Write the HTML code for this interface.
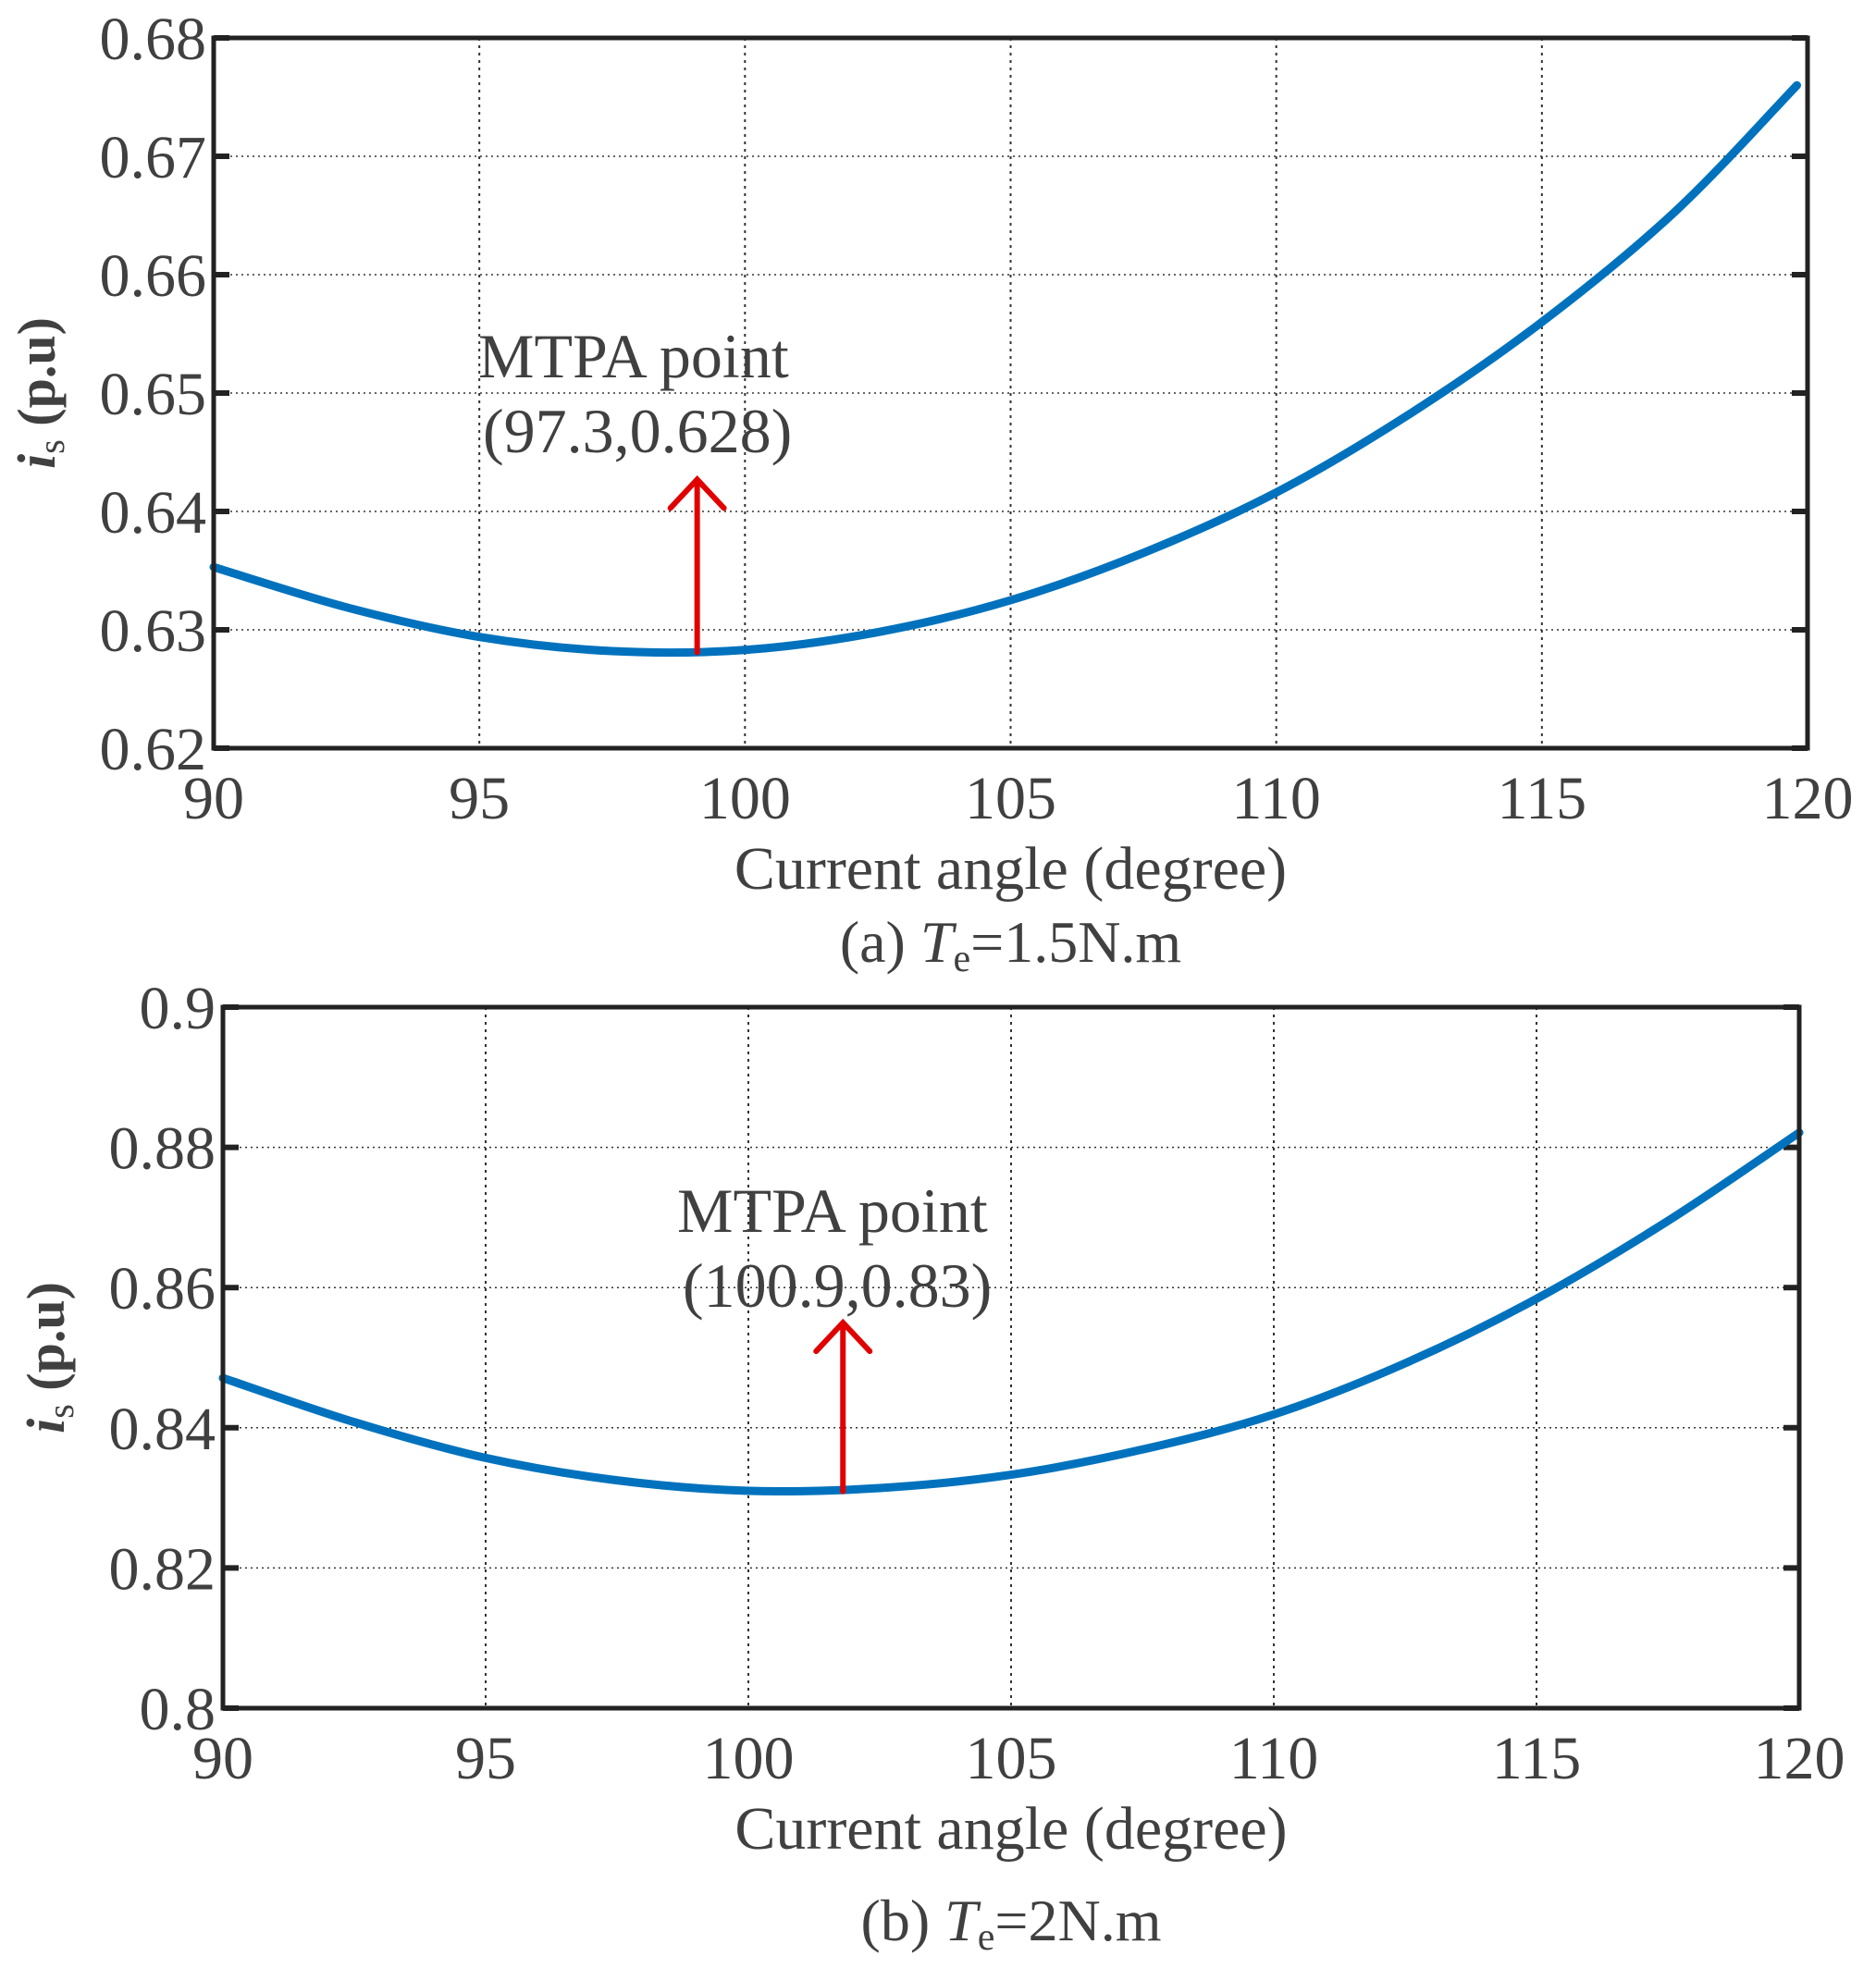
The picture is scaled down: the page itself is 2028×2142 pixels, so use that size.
<!DOCTYPE html>
<html><head><meta charset="utf-8"><style>
html,body{margin:0;padding:0;background:#fff;}
svg text{font-family:"Liberation Serif",serif;fill:#404040;}
</style></head><body>
<svg id="fig" width="2028" height="2137" viewBox="0 0 2028 2137" xmlns="http://www.w3.org/2000/svg"></svg>
<script>
const xTicks=[90,95,100,105,110,115,120];
const yTicksA=[0.62,0.63,0.64,0.65,0.66,0.67,0.68];
const yTickLabelsA=["0.62","0.63","0.64","0.65","0.66","0.67","0.68"];
const yTicksB=[0.8,0.82,0.84,0.86,0.88,0.9];
const yTickLabelsB=["0.8","0.82","0.84","0.86","0.88","0.9"];
const angleA=[90,92.5,95,97.5,100,102.5,105,107.5,110,112.5,115,117.5,119.8];
const currentA=[0.6353,0.6319,0.6294,0.6282,0.6283,0.6298,0.6325,0.6365,0.6416,0.6482,0.6560,0.6653,0.6760];
const angleB=[90,92.5,95,97.5,100,102.5,105,107.5,110,112.5,115,117.5,120];
const currentB=[0.8471,0.8408,0.8357,0.8325,0.8310,0.8314,0.8333,0.8369,0.8419,0.8492,0.8584,0.8695,0.8821];
const markerA=[99.1,0.6281,0.6427];
const markerB=[101.8,0.8309,0.855];

const NS="http://www.w3.org/2000/svg";
const svg=document.getElementById('fig');
function mk(tag,attrs,parent){const e=document.createElementNS(NS,tag);for(const k in attrs)e.setAttribute(k,attrs[k]);(parent||svg).appendChild(e);return e;}

function panel(o){
  const g=mk('g',{});
  
  
  const X=v=>o.L+(v-90)/30*(o.R-o.L);
  const Y=v=>o.B-(v-o.ymin)/(o.ymax-o.ymin)*(o.B-o.T);
  xTicks.forEach(t=>{ if(t>90&&t<120){const l=mk('line',{x1:X(t),x2:X(t),y1:o.T,y2:o.B,stroke:'#333','stroke-width':2,'stroke-dasharray':'3,5'},g);
    }});
  o.yt.forEach(t=>{ const y=Y(t); if(y>o.T+2&&y<o.B-2){const l=mk('line',{x1:o.L,x2:o.R,y1:y,y2:y,stroke:'#333','stroke-width':1.5,'stroke-dasharray':'2,4'},g);
    }});
  o.yt.forEach((t,i)=>{const y=Y(t);
    mk('line',{x1:o.L,x2:o.L+17,y1:y,y2:y,stroke:'#222','stroke-width':6},g);
    mk('line',{x1:o.R-17,x2:o.R,y1:y,y2:y,stroke:'#222','stroke-width':6},g);
    const tx=mk('text',{x:o.L-8,y:y+23,'font-size':66,'text-anchor':'end'},g);
    tx.textContent=o.yl[i];
    });
  xTicks.forEach(t=>{const tx=mk('text',{x:X(t),y:o.B+76,'font-size':66,'text-anchor':'middle'},g);
    tx.textContent=t;
    });
  const pts=o.xs.map((v,i)=>[X(v),Y(o.ys[i])]);
  let d='M'+pts[0][0]+','+pts[0][1];
  for(let i=0;i<pts.length-1;i++){
    const p0=pts[Math.max(0,i-1)],p1=pts[i],p2=pts[i+1],p3=pts[Math.min(pts.length-1,i+2)];
    const c1=[p1[0]+(p2[0]-p0[0])/6,p1[1]+(p2[1]-p0[1])/6],c2=[p2[0]-(p3[0]-p1[0])/6,p2[1]-(p3[1]-p1[1])/6];
    d+=' C'+c1+' '+c2+' '+p2;
  }
  const c=mk('path',{d:d,fill:'none',stroke:'#0072BD','stroke-width':9,'stroke-linecap':'round'},g);
  
  const ax=X(o.m[0]),ay0=Y(o.m[1]),ay1=Y(o.m[2]);
  const ar=mk('path',{d:`M${ax},${ay0}V${ay1}M${ax-29},${ay1+31}L${ax},${ay1}L${ax+29},${ay1+31}`,fill:'none',stroke:'#e00000','stroke-width':6,'stroke-linecap':'round'},g);
  
  const t1=mk('text',{x:o.tx,y:o.ty,'font-size':68},g);t1.textContent='MTPA point';
  
  const t2=mk('text',{x:o.tx2,y:o.ty+81,'font-size':68},g);t2.textContent=o.mt;
  
  const f=mk('rect',{x:o.L,y:o.T,width:o.R-o.L,height:o.B-o.T,fill:'none',stroke:'#222','stroke-width':5},g);
  
  const xl=mk('text',{x:(o.L+o.R)/2,y:o.B+152,'font-size':66,'text-anchor':'middle'},g);xl.textContent='Current angle (degree)';
  
  const yl=mk('text',{transform:`translate(${o.L-172},${(o.T+o.B)/2}) rotate(-90)`,'font-size':58,'text-anchor':'middle','font-weight':'bold'},g);
  yl.innerHTML='<tspan font-style="italic">i</tspan><tspan font-size="40" dy="10" font-weight="normal">s</tspan><tspan dy="-10"> (p.u)</tspan>';
  
  const cap=mk('text',{x:(o.L+o.R)/2,y:o.capY,'font-size':64,'text-anchor':'middle'},g);
  cap.innerHTML='('+o.cl+') <tspan font-style="italic">T</tspan><tspan font-size="42" dy="10">e</tspan><tspan dy="-10">='+o.ct+'</tspan>';
  
}
panel({name:'panel-a',L:231,R:1954,T:41,B:809,ymin:0.62,ymax:0.68,yt:yTicksA,yl:yTickLabelsA,xs:angleA,ys:currentA,m:markerA,tx:517,tx2:522,ty:408,mt:'(97.3,0.628)',capY:1040,cl:'a',ct:'1.5N.m'});
panel({name:'panel-b',L:241,R:1945,T:1089,B:1847,ymin:0.8,ymax:0.9,yt:yTicksB,yl:yTickLabelsB,xs:angleB,ys:currentB,m:markerB,tx:732,tx2:738,ty:1332,mt:'(100.9,0.83)',capY:2098,cl:'b',ct:'2N.m'});
</script>
</body></html>
